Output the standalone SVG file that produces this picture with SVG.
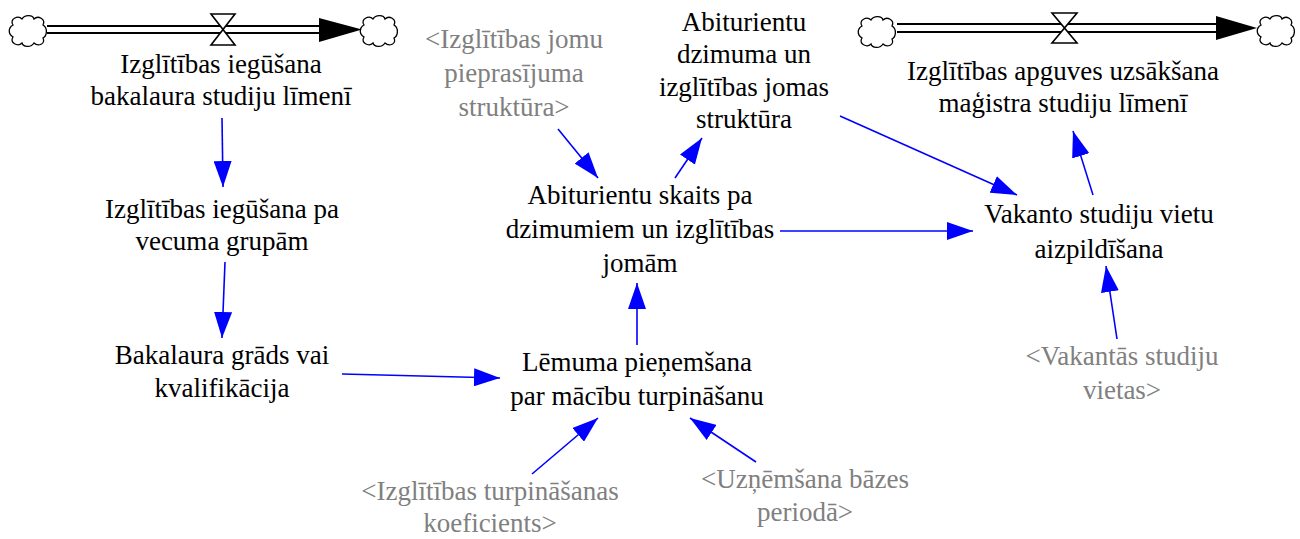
<svg xmlns="http://www.w3.org/2000/svg" width="1300" height="539" viewBox="0 0 1300 539">
  <style>
    text { font-family: 'Liberation Serif', 'Times New Roman', 'DejaVu Serif', serif; font-size: 27px; text-anchor: middle; }
    .var { fill: #000000; }
    .shadow { fill: #808080; }
    .link { stroke: #0000ff; stroke-width: 1.6; fill: none; marker-end: url(#infoHead); }
    .pipe { stroke: #000000; stroke-width: 2; fill: none; }
    .cloud { fill: #ffffff; stroke: #000000; stroke-width: 1.3; }
    .valve { fill: #ffffff; stroke: #000000; stroke-width: 1.6; }
  </style>
  <defs>
    <marker id="infoHead" markerUnits="userSpaceOnUse" markerWidth="27" markerHeight="18" refX="26" refY="9" orient="auto">
      <path d="M0,0 L26,9 L0,18 Z" fill="#0000ff"/>
    </marker>
    <path id="cloudShape" class="cloud" d="M -15,-6 C -19,-12 -10,-16 -6,-12 C -3,-17 5,-16 6,-12 C 10,-16 18,-12 15,-6 C 20,-3 19,5 15,7 C 18,13 10,16 6,12 C 3,17 -5,16 -6,12 C -10,16 -19,12 -15,6 C -20,3 -20,-3 -15,-6 Z"/>
  </defs>
  <rect width="1300" height="539" fill="#ffffff"/>

  <g font-family="Liberation Serif, Times New Roman, DejaVu Serif, serif">

  <!-- flow: bachelor-level education -->
  <g id="flow-bachelor">
    <use href="#cloudShape" x="28" y="31"/>
    <use href="#cloudShape" x="379" y="31"/>
    <line class="pipe" x1="47" y1="26" x2="322" y2="26"/>
    <line class="pipe" x1="47" y1="33" x2="322" y2="33"/>
    <path d="M319,18 L362,29.5 L319,42 Z" fill="#000000"/>
    <path class="valve" d="M211,14 L235,14 L211,45 L235,45 Z"/>
    <text class="var" x="221" y="73">Izglītības iegūšana</text>
    <text class="var" x="221" y="105">bakalaura studiju līmenī</text>
  </g>

  <!-- flow: master-level enrolment -->
  <g id="flow-master">
    <use href="#cloudShape" x="877" y="32"/>
    <use href="#cloudShape" x="1276" y="31"/>
    <line class="pipe" x1="897" y1="24" x2="1219" y2="24"/>
    <line class="pipe" x1="897" y1="32" x2="1219" y2="32"/>
    <path d="M1216,16 L1257,28 L1216,40 Z" fill="#000000"/>
    <path class="valve" d="M1052,13 L1077,13 L1052,43 L1077,43 Z"/>
    <text class="var" x="1063" y="80">Izglītības apguves uzsākšana</text>
    <text class="var" x="1063" y="112">maģistra studiju līmenī</text>
  </g>

  <g id="age-groups">
    <text class="var" x="222" y="218">Izglītības iegūšana pa</text>
    <text class="var" x="222" y="250">vecuma grupām</text>
  </g>

  <g id="degree">
    <text class="var" x="222" y="364">Bakalaura grāds vai</text>
    <text class="var" x="222" y="397">kvalifikācija</text>
  </g>

  <g id="field-demand">
    <text class="shadow" x="514" y="48">&lt;Izglītības jomu</text>
    <text class="shadow" x="514" y="82">pieprasījuma</text>
    <text class="shadow" x="514" y="116">struktūra&gt;</text>
  </g>

  <g id="applicant-structure">
    <text class="var" x="744" y="31">Abiturientu</text>
    <text class="var" x="744" y="63">dzimuma un</text>
    <text class="var" x="744" y="96">izglītības jomas</text>
    <text class="var" x="744" y="128">struktūra</text>
  </g>

  <g id="applicant-count">
    <text class="var" x="640" y="204">Abiturientu skaits pa</text>
    <text class="var" x="640" y="238">dzimumiem un izglītības</text>
    <text class="var" x="640" y="272">jomām</text>
  </g>

  <g id="decision">
    <text class="var" x="637" y="371">Lēmuma pieņemšana</text>
    <text class="var" x="637" y="405">par mācību turpināšanu</text>
  </g>

  <g id="vacancy-filling">
    <text class="var" x="1099" y="223">Vakanto studiju vietu</text>
    <text class="var" x="1099" y="258">aizpildīšana</text>
  </g>

  <g id="vacancies">
    <text class="shadow" x="1122" y="365">&lt;Vakantās studiju</text>
    <text class="shadow" x="1122" y="399">vietas&gt;</text>
  </g>

  <g id="continuation-rate">
    <text class="shadow" x="490" y="500">&lt;Izglītības turpināšanas</text>
    <text class="shadow" x="490" y="532">koeficients&gt;</text>
  </g>

  <g id="base-intake">
    <text class="shadow" x="805" y="488">&lt;Uzņēmšana bāzes</text>
    <text class="shadow" x="805" y="521">periodā&gt;</text>
  </g>

  </g>

  <!-- information links -->
  <g id="links">
    <line class="link" x1="222" y1="118" x2="223" y2="187"/>
    <line class="link" x1="225" y1="262" x2="222" y2="338"/>
    <line class="link" x1="342" y1="374" x2="500" y2="378"/>
    <line class="link" x1="637" y1="345" x2="637" y2="283"/>
    <line class="link" x1="558" y1="129" x2="598" y2="178"/>
    <line class="link" x1="675" y1="178" x2="702" y2="138"/>
    <line class="link" x1="840" y1="116" x2="1017" y2="195"/>
    <line class="link" x1="780" y1="231" x2="973" y2="231"/>
    <line class="link" x1="1093" y1="195" x2="1073" y2="131"/>
    <line class="link" x1="1117" y1="339" x2="1106" y2="266"/>
    <line class="link" x1="532" y1="474" x2="598" y2="418"/>
    <line class="link" x1="756" y1="462" x2="690" y2="418"/>
  </g>
</svg>
